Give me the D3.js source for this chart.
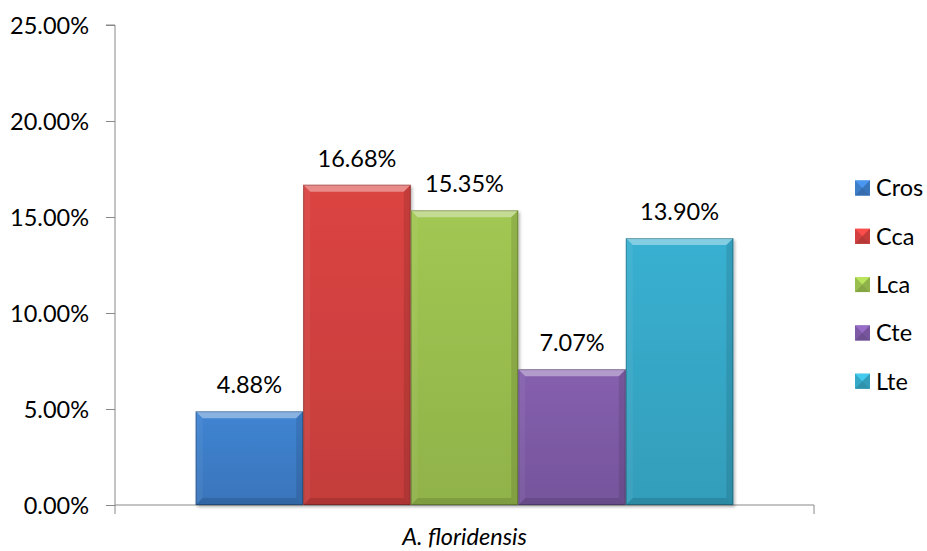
<!DOCTYPE html>
<html>
<head>
<meta charset="utf-8">
<script src="https://cdn.jsdelivr.net/npm/d3@7"></script>
<style>
  html, body { margin: 0; padding: 0; background: #fff; }
  svg { display: block; font-family: Lato, "Open Sans", sans-serif; }
</style>
</head>
<body>
<svg id="chart" width="927" height="551"></svg>
<script>
// Series shares for the single group
const groupName = "A. floridensis";
const seriesNames = ["Cros", "Cca", "Lca", "Cte", "Lte"];
const seriesValues = [4.88, 16.68, 15.35, 7.07, 13.90];
const seriesColors = ["#3d7ec9", "#d2413f", "#9bbf4f", "#7f5ba7", "#37a9c8"];
const yTickValues = [0, 5, 10, 15, 20, 25];

const svg = d3.select("#chart");
const fontSize = 23.5;
const axisColor = "#888888";

const plot = { left: 115, right: 814, top: 25, bottom: 505 };

const y = d3.scaleLinear().domain([0, 25]).range([plot.bottom, plot.top]);
const xGroup = d3.scaleBand().domain([groupName]).range([plot.left, plot.right])
  .paddingInner(0).paddingOuter(0.15);
const xSeries = d3.scaleBand().domain(seriesNames)
  .range([0, xGroup.bandwidth()]).padding(0);

const fmt = d => d.toFixed(2) + "%";

// gradients & shadow
const defs = svg.append("defs");
seriesColors.forEach((c, i) => {
  const g = defs.append("linearGradient").attr("id", "grad" + i)
    .attr("x1", 0).attr("y1", 0).attr("x2", 0).attr("y2", 1);
  g.append("stop").attr("offset", "0%").attr("stop-color", d3.color(c).brighter(0.12));
  g.append("stop").attr("offset", "100%").attr("stop-color", d3.color(c).darker(0.2));
});
const shadow = defs.append("filter").attr("id", "shadow")
  .attr("x", "-10%").attr("y", "-10%").attr("width", "130%").attr("height", "130%");
shadow.append("feDropShadow").attr("dx", 1.5).attr("dy", 2).attr("stdDeviation", 1.5)
  .attr("flood-color", "#000").attr("flood-opacity", 0.3);

// y axis
const yAxis = d3.axisLeft(y).tickValues(yTickValues).tickFormat(fmt)
  .tickSize(9).tickPadding(17);
const yG = svg.append("g").attr("transform", `translate(${plot.left},0)`).call(yAxis);
yG.select(".domain").attr("stroke", axisColor).attr("d", `M-9,${plot.top}H0V${plot.bottom}`);
yG.selectAll(".tick line").attr("stroke", axisColor);
yG.selectAll(".tick text").attr("font-size", fontSize).attr("fill", "#000")
  .attr("font-family", "Lato, sans-serif").attr("dy", "0.36em");

// x axis (single category, ticks at the band edges)
const xG = svg.append("g").attr("transform", `translate(0,${plot.bottom})`);
xG.append("path").attr("fill", "none").attr("stroke", axisColor)
  .attr("d", `M${plot.left},9V0H${plot.right}V9`);
xG.append("text").attr("x", xGroup(groupName) + xGroup.bandwidth() / 2)
  .attr("y", 40).attr("text-anchor", "middle")
  .attr("font-size", fontSize).attr("font-style", "italic").attr("fill", "#000")
  .text(groupName);

// bars with bevelled edges
const bevel = 7;
const bars = svg.append("g").selectAll("g.bar")
  .data(seriesNames.map((name, i) => ({ name, value: seriesValues[i], i })))
  .join("g").attr("class", "bar");

bars.each(function (d) {
  const g = d3.select(this);
  const x0 = xGroup(groupName) + xSeries(d.name);
  const x1 = x0 + xSeries.bandwidth();
  const y0 = y(d.value);
  const y1 = y(0);
  const b = Math.min(bevel, (y1 - y0) / 2);
  g.append("rect").attr("x", x0).attr("y", y0).attr("width", x1 - x0).attr("height", y1 - y0)
    .attr("fill", `url(#grad${d.i})`).attr("filter", "url(#shadow)");
  const poly = (pts, fill, op) => g.append("polygon")
    .attr("points", pts.map(p => p.join(",")).join(" "))
    .attr("fill", fill).attr("fill-opacity", op);
  poly([[x0, y0], [x1, y0], [x1 - b, y0 + b], [x0 + b, y0 + b]], "#ffffff", 0.38);
  poly([[x0, y0], [x0 + b, y0 + b], [x0 + b, y1 - b], [x0, y1]], "#ffffff", 0.05);
  poly([[x1, y0], [x1, y1], [x1 - b, y1 - b], [x1 - b, y0 + b]], "#000000", 0.1);
  poly([[x0, y1], [x0 + b, y1 - b], [x1 - b, y1 - b], [x1, y1]], "#000000", 0.12);
  g.append("rect").attr("x", x0 + 0.5).attr("y", y0 + 0.5)
    .attr("width", x1 - x0 - 1).attr("height", y1 - y0 - 1)
    .attr("fill", "none").attr("stroke", "#000").attr("stroke-opacity", 0.25);
  g.append("text").attr("x", (x0 + x1) / 2).attr("y", y0 - 18)
    .attr("text-anchor", "middle").attr("font-size", fontSize).attr("fill", "#000")
    .text(fmt(d.value));
});

// legend
const legendX = 855, legendY0 = 188, legendStep = 48.3, sq = 15;
const legend = svg.append("g").selectAll("g")
  .data(seriesNames).join("g")
  .attr("transform", (d, i) => `translate(${legendX},${legendY0 + i * legendStep})`);
legend.each(function (d, i) {
  const g = d3.select(this);
  const c = d3.color(seriesColors[i]);
  const h = sq / 2;
  g.append("rect").attr("x", 0).attr("y", -h).attr("width", sq).attr("height", sq).attr("fill", c);
  g.append("polygon").attr("points", `0,${-h} ${sq},${-h} ${h},0`).attr("fill", c.brighter(0.5));
  g.append("polygon").attr("points", `0,${h} ${sq},${h} ${h},0`).attr("fill", c.darker(0.4));
  g.append("polygon").attr("points", `${sq},${-h} ${sq},${h} ${h},0`).attr("fill", c.darker(0.2));
  g.append("text").attr("x", sq + 6).attr("y", 0).attr("dy", "0.36em")
    .attr("font-size", fontSize).attr("fill", "#000").text(d);
});
</script>
</body>
</html>
